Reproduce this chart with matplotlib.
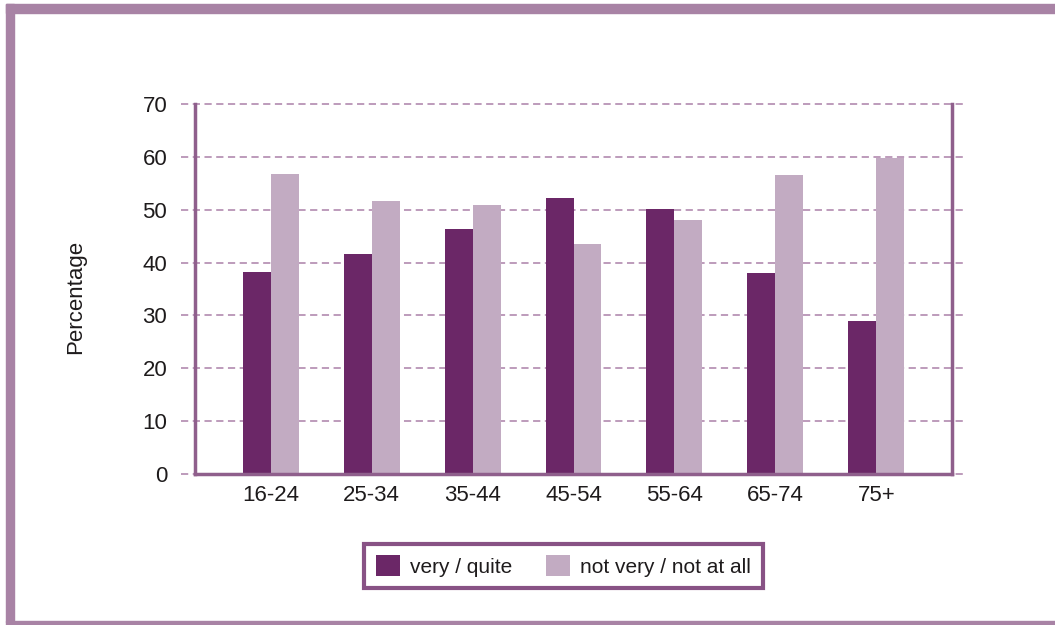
import matplotlib
matplotlib.use("Agg")
import matplotlib.pyplot as plt
from matplotlib.patches import Rectangle, Patch
import numpy as np

# Data
age_groups = ["16-24", "25-34", "35-44", "45-54", "55-64", "65-74", "75+"]
very_quite = [38.3, 41.6, 46.3, 52.2, 50.1, 38.1, 29.0]
not_very = [56.8, 51.7, 50.9, 43.6, 48.0, 56.6, 59.8]
y_ticks = [0, 10, 20, 30, 40, 50, 60, 70]
series_labels = ["very / quite", "not very / not at all"]

DARK = "#6b2767"
LIGHT = "#c2abc2"
SPINE = "#8f5f8c"
FRAME = "#a883a5"
GRID = "#b893b5"
TEXT = "#1e1b1c"

plt.rcParams["font.family"] = ["Liberation Sans", "DejaVu Sans"]

W, H = 1055, 625
fig = plt.figure(figsize=(W / 100, H / 100), dpi=100)

# Outer decorative frame
fig.patches.append(Rectangle((6 / W, 1 - 622 / H), 8 / W, 618 / H,
                             transform=fig.transFigure, color=FRAME, zorder=0))
fig.patches.append(Rectangle((6 / W, 1 - 12.5 / H), 1 - 6 / W, 8.5 / H,
                             transform=fig.transFigure, color=FRAME, zorder=0))
fig.patches.append(Rectangle((6 / W, 0), 1 - 6 / W, 4.5 / H,
                             transform=fig.transFigure, color=FRAME, zorder=0))

left, right, bottom, top = 195, 952, 474, 104
ax = fig.add_axes([left / W, 1 - bottom / H, (right - left) / W, (bottom - top) / H])

x = np.arange(len(age_groups))
bw = 0.277
ax.bar(x - bw / 2, very_quite, width=bw, color=DARK, zorder=3, label=series_labels[0])
ax.bar(x + bw / 2, not_very, width=bw, color=LIGHT, zorder=3, label=series_labels[1])

ax.set_xlim(-0.75, 6.75)
ax.set_ylim(0, 70)

# Dashed gridlines that run slightly past both side spines
ext_l = 14 / 101
ext_r = 15 / 101
for v in y_ticks:
    ax.plot([-0.75 - ext_l, 6.75 + ext_r], [v, v], color=GRID, lw=1.3,
            dashes=(4, 2.5), clip_on=False, zorder=1)

ax.set_yticks(y_ticks)
ax.set_xticks(x)
ax.set_xticklabels(age_groups)
ax.tick_params(axis="both", length=0, labelsize=16, colors=TEXT)
ax.tick_params(axis="y", pad=20)
ax.tick_params(axis="x", pad=8)

for side in ["left", "bottom", "right"]:
    ax.spines[side].set_color(SPINE)
    ax.spines[side].set_linewidth(2.5)
    ax.spines[side].set_zorder(4)
ax.spines["top"].set_visible(False)

ax.set_ylabel("Percentage", fontsize=16, color=TEXT)
ax.yaxis.set_label_coords((86 - left) / (right - left), (bottom - 297) / (bottom - top))

handles = [Patch(facecolor=DARK), Patch(facecolor=LIGHT)]
leg = fig.legend(handles, series_labels, loc="center", ncol=2,
                 bbox_to_anchor=(563.5 / W, 1 - 566 / H), fontsize=15,
                 frameon=True, fancybox=False, edgecolor=DARK,
                 handlelength=1.15, handleheight=1.15, handletextpad=0.5,
                 columnspacing=1.6, borderpad=0.55, labelcolor=TEXT)
leg.get_frame().set_linewidth(3)

fig.savefig("out.png", dpi=100, facecolor="white")
